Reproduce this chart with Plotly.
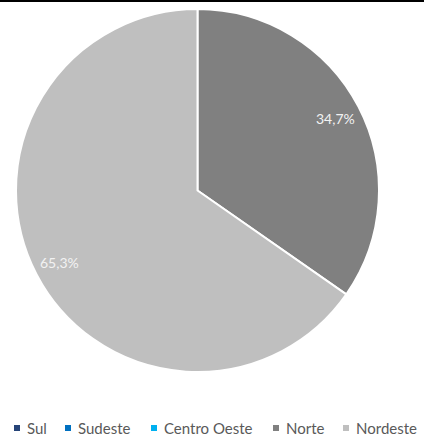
import math
import plotly.graph_objects as go

# Share of records by region (%)
regions = ["Sul", "Sudeste", "Centro Oeste", "Norte", "Nordeste"]
shares = [0.0, 0.0, 0.0, 34.7, 65.3]
colors = ["#264478", "#0070C0", "#00B0F0", "#808080", "#BFBFBF"]

W, H = 424, 438
# pie box in pixels (left, top, right, bottom)
PIE_L, PIE_T, PIE_R, PIE_B = 16, 8, 379, 373
LABEL_RADIUS = 0.855  # fraction of the radius where slice labels sit

# legend: swatch left edges in pixels, swatch size, gap to the label, row centre
legend_x = [14, 65, 151, 273, 343]
SWATCH = 6
SWATCH_TOP = 425
TEXT_OFFSET = 12
LEGEND_Y = 428

fig = go.Figure()
fig.add_trace(go.Pie(
    labels=regions,
    values=shares,
    marker=dict(colors=colors, line=dict(color="#FFFFFF", width=2)),
    sort=False,
    direction="clockwise",
    rotation=0,
    textinfo="none",
    hoverinfo="label+percent",
    showlegend=False,
    domain=dict(x=[PIE_L / W, PIE_R / W], y=[1 - PIE_B / H, 1 - PIE_T / H]),
))

# slice percentage labels, placed along each slice's bisector
cx = (PIE_L + PIE_R) / 2
cy = (PIE_T + PIE_B) / 2
R = min(PIE_R - PIE_L, PIE_B - PIE_T) / 2
total = sum(shares)
annotations = []
start = 0.0
for name, v in zip(regions, shares):
    if v > 0:
        mid = (start + v / 2) / total * 2 * math.pi
        px = cx + LABEL_RADIUS * R * math.sin(mid)
        py = cy - LABEL_RADIUS * R * math.cos(mid)
        annotations.append(dict(
            x=px / W, y=1 - py / H, xref="paper", yref="paper",
            text=f"{v:.1f}%".replace(".", ","), showarrow=False,
            font=dict(family="Lato, Open Sans, sans-serif", size=14, color="#F2F2F2"),
            xanchor="center", yanchor="middle",
        ))
    start += v

# legend row: coloured swatch plus region name
shapes = [dict(type="rect", xref="paper", yref="paper",
               x0=0, x1=1, y0=1 - 2 / H, y1=1,
               fillcolor="#000000", line=dict(width=0))]
for name, c, lx in zip(regions, colors, legend_x):
    shapes.append(dict(
        type="rect", xref="paper", yref="paper",
        x0=lx / W, x1=(lx + SWATCH) / W,
        y0=1 - (SWATCH_TOP + SWATCH) / H, y1=1 - SWATCH_TOP / H,
        fillcolor=c, line=dict(width=0),
    ))
    annotations.append(dict(
        x=(lx + TEXT_OFFSET) / W, y=1 - LEGEND_Y / H, xref="paper", yref="paper",
        text=name, showarrow=False, xanchor="left", yanchor="middle",
        xshift=-1,
        font=dict(family="Lato, Open Sans, sans-serif", size=15, color="#595959"),
    ))

fig.update_layout(
    width=W, height=H, autosize=False,
    margin=dict(l=0, r=0, t=0, b=0),
    paper_bgcolor="#FFFFFF", plot_bgcolor="#FFFFFF",
    annotations=annotations,
    shapes=shapes,
)

fig.write_html("out.html")
